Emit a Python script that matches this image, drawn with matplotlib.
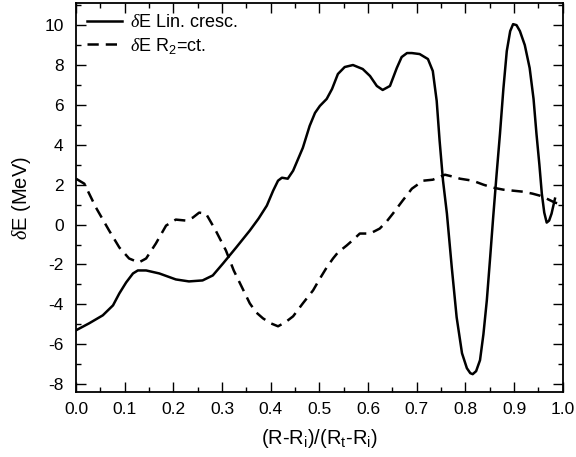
import matplotlib
matplotlib.use('Agg')
import matplotlib.pyplot as plt
from matplotlib.ticker import MultipleLocator, FormatStrFormatter

plt.rcParams['font.family'] = ['Liberation Sans', 'DejaVu Sans']
plt.rcParams['mathtext.fontset'] = 'custom'
plt.rcParams['mathtext.rm'] = 'Liberation Sans'
plt.rcParams['mathtext.it'] = 'Liberation Serif:italic'
plt.rcParams['axes.unicode_minus'] = False

# solid curve: linear growth
x_lin = [0.0, 0.027, 0.055, 0.076, 0.089, 0.103, 0.117, 0.127, 0.144, 0.171, 0.205, 0.232, 0.26,
         0.281, 0.302, 0.329, 0.357, 0.375, 0.392, 0.405, 0.415, 0.423, 0.435, 0.446, 0.466, 0.48,
         0.491, 0.501, 0.515, 0.526, 0.538, 0.552, 0.569, 0.589, 0.604, 0.618, 0.63, 0.645, 0.659,
         0.669, 0.68, 0.69, 0.706, 0.723, 0.733, 0.741, 0.747, 0.754, 0.762, 0.772, 0.782, 0.793,
         0.803, 0.81, 0.815, 0.822, 0.83, 0.837, 0.844, 0.851, 0.857, 0.864, 0.871, 0.878, 0.885,
         0.892, 0.898, 0.905, 0.912, 0.922, 0.932, 0.94, 0.946, 0.952, 0.957, 0.962, 0.967, 0.972,
         0.977, 0.984]
y_lin = [-5.3, -4.95, -4.55, -4.05, -3.45, -2.9, -2.45, -2.3, -2.3, -2.45, -2.75, -2.85, -2.8,
         -2.55, -1.95, -1.15, -0.3, 0.3, 0.95, 1.7, 2.2, 2.35, 2.3, 2.7, 3.85, 4.95,
         5.6, 5.95, 6.3, 6.8, 7.55, 7.9, 8.0, 7.8, 7.45, 6.95, 6.75, 6.95, 7.85,
         8.4, 8.6, 8.6, 8.55, 8.3, 7.7, 6.2, 4.2, 2.2, 0.55, -2.15, -4.65, -6.45,
         -7.2, -7.45, -7.5, -7.35, -6.8, -5.5, -3.8, -1.6, 0.35, 2.5, 4.55, 6.8, 8.7,
         9.7, 10.05, 10.0, 9.7, 9.0, 7.85, 6.3, 4.55, 3.0, 1.55, 0.6, 0.1, 0.2,
         0.55, 1.3]

# dashed curve: R2 constant
x_ct = [0.0, 0.017, 0.041, 0.068, 0.089, 0.109, 0.129, 0.144, 0.164, 0.185, 0.205, 0.226, 0.24,
        0.253, 0.267, 0.287, 0.308, 0.324, 0.337, 0.347, 0.357, 0.37, 0.384, 0.4, 0.415, 0.43,
        0.446, 0.466, 0.487, 0.5, 0.515, 0.528, 0.538, 0.556, 0.57, 0.583, 0.604, 0.624, 0.638,
        0.651, 0.671, 0.69, 0.713, 0.733, 0.758, 0.775, 0.789, 0.815, 0.837, 0.857, 0.878, 0.898,
        0.918, 0.938, 0.953, 0.967, 0.984, 1.0]
y_ct = [2.3, 2.05, 0.85, -0.3, -1.15, -1.7, -1.9, -1.7, -0.95, -0.05, 0.25, 0.2, 0.35,
        0.6, 0.55, -0.3, -1.3, -2.3, -2.95, -3.45, -3.95, -4.4, -4.7, -4.95, -5.1, -4.9,
        -4.6, -3.95, -3.3, -2.75, -2.15, -1.7, -1.4, -1.05, -0.75, -0.45, -0.45, -0.2, 0.15,
        0.55, 1.2, 1.8, 2.2, 2.25, 2.5, 2.4, 2.3, 2.2, 2.0, 1.85, 1.75, 1.7,
        1.65, 1.55, 1.45, 1.3, 1.1, 1.0]

fig = plt.figure(figsize=(5.76, 4.57), dpi=100)
ax = fig.add_axes([0.132, 0.142, 0.845, 0.851])

ax.plot(x_lin, y_lin, color='black', lw=1.8, label=r'$\delta$E Lin. cresc.')
ax.plot(x_ct, y_ct, color='black', lw=1.8, ls=(0, (4.5, 2.8)), label=r'$\delta$E $\mathregular{R_2}$=ct.')

ax.set_xlim(0, 1.0)
ax.set_ylim(-8.4, 11.1)
ax.xaxis.set_major_locator(MultipleLocator(0.1))
ax.xaxis.set_minor_locator(MultipleLocator(0.05))
ax.yaxis.set_major_locator(MultipleLocator(2))
ax.yaxis.set_minor_locator(MultipleLocator(1))
ax.xaxis.set_major_formatter(FormatStrFormatter('%.1f'))
ax.tick_params(which='both', direction='in', top=True, right=True, labelsize=12.5, width=1)
ax.tick_params(which='major', length=7)
ax.tick_params(which='minor', length=3.5)
ax.tick_params(axis='x', pad=7)
ax.tick_params(axis='y', pad=9)
for s in ax.spines.values():
    s.set_linewidth(1.3)

ax.set_xlabel('(R-R$_\\mathregular{i}$)/(R$_\\mathregular{t}$-R$_\\mathregular{i}$)', fontsize=14.5, labelpad=7)
ax.set_ylabel(r'$\delta$E (MeV)', fontsize=14.5, labelpad=8)

ax.legend(loc='upper left', frameon=False, fontsize=13, handlelength=1.95, handletextpad=0.45,
          borderaxespad=0.35, labelspacing=0.25, borderpad=0.25)

fig.savefig('out.png', dpi=100)
